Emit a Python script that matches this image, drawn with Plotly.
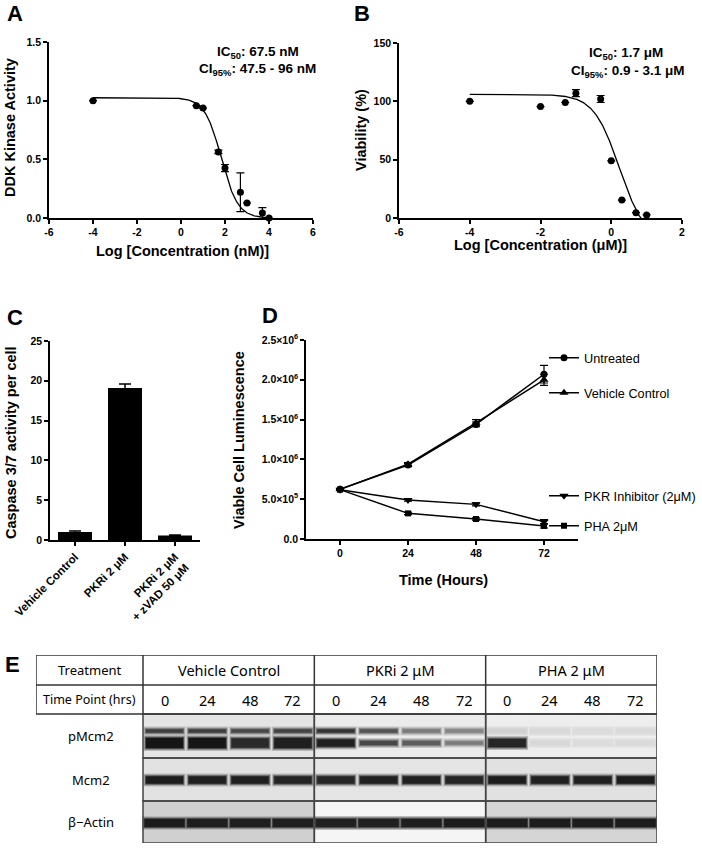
import numpy as np
import plotly.graph_objects as go

W, H = 702, 848

# ---------------- Panel A: DDK kinase activity ----------------
a_logconc = [-4, 0.7, 1.0, 1.7, 2.0, 2.7, 3.0, 3.7, 4.0]
a_activity = [1.0, 0.957, 0.937, 0.563, 0.426, 0.219, 0.128, 0.043, 0.0]
a_err = [None, None, None, 0.015, 0.03, 0.165, None, 0.045, None]
a_top, a_bottom, a_logic50, a_hill = 1.025, 0.0, 1.829, 1.15

# ---------------- Panel B: viability ----------------
b_logconc = [-4, -2, -1.3, -1, -0.3, 0, 0.3, 0.7, 1.0]
b_viab = [100, 95.5, 99, 107, 102, 49, 15.4, 4.6, 2.6]
b_err = [None, None, None, 3, 3, None, None, None, None]
b_top, b_bottom, b_logic50, b_hill = 106, -20, 0.23, 1.2

# ---------------- Panel C: caspase ----------------
c_labels = ["Vehicle Control", "PKRi 2 \u03bcM", "PKRi 2 \u03bcM<br>+ zVAD 50 \u03bcM"]
c_vals = [1.0, 19.1, 0.55]
c_err = [0.12, 0.5, 0.08]

# ---------------- Panel D: time course ----------------
d_hours = [0, 24, 48, 72]
d_untreated = [6.24e5, 9.3e5, 1.44e6, 2.07e6]
d_untreated_err = [1e4, 2e4, 3e4, 1.1e5]
d_vehicle = [6.24e5, 9.4e5, 1.46e6, 2.0e6]
d_vehicle_err = [1e4, 2e4, 4e4, 7e4]
d_pkr = [6.2e5, 4.9e5, 4.35e5, 2.18e5]
d_pkr_err = [1e4, 1.5e4, 2e4, 2.5e4]
d_pha = [6.2e5, 3.22e5, 2.51e5, 1.63e5]
d_pha_err = [1e4, 1.5e4, 1.5e4, 2.5e4]
d_names = ["Untreated", "Vehicle Control", "PKR Inhibitor (2\u03bcM)", "PHA 2\u03bcM"]
d_ticktext = ["0.0", "5.0\u00d710<sup>5</sup>", "1.0\u00d710<sup>6</sup>", "1.5\u00d710<sup>6</sup>",
              "2.0\u00d710<sup>6</sup>", "2.5\u00d710<sup>6</sup>"]

# ---------------- Panel E: western blot ----------------
e_groups = ["Vehicle Control", "PKRi 2 \u03bcM", "PHA 2 \u03bcM"]
e_times = ["0", "24", "48", "72"]
e_rows = ["pMcm2", "Mcm2", "\u03b2\u2212Actin"]
pmcm2_upper = [0.80, 0.80, 0.75, 0.78, 0.85, 0.70, 0.50, 0.45, 0.08, 0.04, 0.02, 0.03]
pmcm2_lower = [1.00, 1.00, 0.90, 0.95, 0.95, 0.75, 0.65, 0.50, 0.92, 0.04, 0.02, 0.03]
pmcm2_lower_size = [10, 10, 9, 10, 7, 4, 4, 3, 8, 3, 3, 3]
mcm2_band = [0.97, 0.95, 0.95, 0.93, 0.92, 0.95, 0.95, 0.93, 0.97, 0.95, 0.95, 0.97]
actin_band = [0.97, 0.96, 0.96, 0.96, 0.95, 0.95, 0.96, 0.97, 0.97, 0.97, 0.97, 0.97]


def px(x):
    return x / W


def py(y):
    return 1 - y / H


def four_pl(x, top, bottom, logic50, hill):
    return bottom + (top - bottom) / (1 + 10 ** ((x - logic50) * hill))


BOLD = dict(family="Liberation Sans, Arial", size=10.5, color="black", weight="bold")

fig = go.Figure()

# ---- A ----
xa = np.linspace(-4, 4, 300)
fig.add_trace(go.Scatter(x=xa, y=four_pl(xa, a_top, a_bottom, a_logic50, a_hill), mode="lines",
                         line=dict(color="black", width=1.3), xaxis="x", yaxis="y", showlegend=False))
fig.add_trace(go.Scatter(x=a_logconc, y=a_activity, mode="markers",
                         marker=dict(color="black", size=7),
                         error_y=dict(type="data", array=a_err, color="black", thickness=1.2, width=4),
                         cliponaxis=False, xaxis="x", yaxis="y", showlegend=False))

# ---- B ----
xb = np.linspace(-4, 1.0, 300)
fig.add_trace(go.Scatter(x=xb, y=four_pl(xb, b_top, b_bottom, b_logic50, b_hill), mode="lines",
                         line=dict(color="black", width=1.3), xaxis="x2", yaxis="y2", showlegend=False))
fig.add_trace(go.Scatter(x=b_logconc, y=b_viab, mode="markers",
                         marker=dict(color="black", size=7),
                         error_y=dict(type="data", array=b_err, color="black", thickness=1.2, width=4),
                         cliponaxis=False, xaxis="x2", yaxis="y2", showlegend=False))

# ---- C ----
fig.add_trace(go.Bar(x=list(range(len(c_labels))), y=c_vals, width=0.68,
                     marker=dict(color="black", line=dict(width=0)),
                     error_y=dict(type="data", array=c_err, color="black", thickness=1.5, width=6),
                     xaxis="x3", yaxis="y3", showlegend=False))

# ---- D ----
d_series = [(d_untreated, d_untreated_err, "circle", 7),
            (d_vehicle, d_vehicle_err, "triangle-up", 8),
            (d_pkr, d_pkr_err, "triangle-down", 8),
            (d_pha, d_pha_err, "square", 6)]
for i, (vals, errs, sym, sz) in enumerate(d_series):
    fig.add_trace(go.Scatter(x=d_hours, y=vals, mode="lines+markers", name=d_names[i],
                             line=dict(color="black", width=1.5),
                             marker=dict(symbol=sym, size=sz, color="black"),
                             error_y=dict(type="data", array=errs, color="black", thickness=1.2, width=4),
                             xaxis="x4", yaxis="y4",
                             legend="legend" if i == 0 else f"legend{i + 1}"))

# ---- E: blot bands ----
E_LEFT, E_LABEL, E_RIGHT = 36, 143, 657
E_TOP, E_MID, E_HDR = 655, 685, 714
E_ROWB = [714, 758, 801, 843]
GW = (E_RIGHT - E_LABEL) / 3
lane_x = [E_LABEL + g * GW + 21.5 + 42.8 * i for g in range(3) for i in range(4)]


def gray(v, base=224):
    g = int(round(base - (base - 22) * v))
    return f"rgb({g},{g},{g})"


def band(intens, center, size, width=37):
    sizes = size if isinstance(size, list) else [size] * len(intens)
    layers = [(6, 5, 0.22), (3.5, 3, 0.55), (1.5, 1.5, 0.85), (0, 0, 1.0)]
    for dh, dw, f in layers:
        fig.add_trace(go.Bar(x=lane_x, y=[s + dh for s in sizes], base=[center - (s + dh) / 2 for s in sizes],
                             width=width + dw, marker=dict(color=[gray(v * f) for v in intens],
                                                           line=dict(width=0)),
                             opacity=1.0 if f == 1.0 else 0.9,
                             xaxis="x5", yaxis="y5", showlegend=False, hoverinfo="skip"))


band(pmcm2_upper, 731, 3)
band(pmcm2_lower, 743, pmcm2_lower_size)
band(mcm2_band, 780, 7)
band(actin_band, 823, 8, width=40)

shapes = []
bg = [["#e4e4e4", "#ebebeb", "#ededed"],
      ["#e2e2e2", "#e5e5e5", "#e1e1e1"],
      ["#d0d0d0", "#f5f5f5", "#d5d5d5"]]
for r in range(3):
    for g in range(3):
        shapes.append(dict(type="rect", xref="x5", yref="y5", layer="below",
                           x0=E_LABEL + g * GW, x1=E_LABEL + (g + 1) * GW, y0=E_ROWB[r], y1=E_ROWB[r + 1],
                           fillcolor=bg[r][g], line=dict(width=0)))
for r in range(3):
    for g in range(3):
        shapes.append(dict(type="rect", xref="x5", yref="y5", layer="above",
                           x0=E_LABEL + g * GW, x1=E_LABEL + (g + 1) * GW, y0=E_ROWB[r], y1=E_ROWB[r + 1],
                           line=dict(color="#444444", width=1.5)))
# header table
shapes.append(dict(type="rect", xref="x5", yref="y5", x0=E_LEFT, x1=E_RIGHT, y0=E_TOP, y1=E_HDR,
                   line=dict(color="#333333", width=1.5)))
shapes.append(dict(type="line", xref="x5", yref="y5", x0=E_LEFT, x1=E_RIGHT, y0=E_MID, y1=E_MID,
                   line=dict(color="#333333", width=1.5)))
for xv in [E_LABEL, E_LABEL + GW, E_LABEL + 2 * GW]:
    shapes.append(dict(type="line", xref="x5", yref="y5", x0=xv, x1=xv, y0=E_TOP, y1=E_HDR,
                       line=dict(color="#333333", width=1.5)))

TFONT = dict(family="Noto Sans, Open Sans", size=13, color="black")
ann = []
ann.append(dict(text="Treatment", x=(E_LEFT + E_LABEL) / 2, y=(E_TOP + E_MID) / 2, xref="x5", yref="y5",
                showarrow=False, font=TFONT))
ann.append(dict(text="Time Point (hrs)", x=(E_LEFT + E_LABEL) / 2, y=(E_MID + E_HDR) / 2, xref="x5", yref="y5",
                showarrow=False, font=dict(TFONT, size=12.5)))
for g, name in enumerate(e_groups):
    ann.append(dict(text=name, x=E_LABEL + (g + 0.5) * GW, y=(E_TOP + E_MID) / 2, xref="x5", yref="y5",
                    showarrow=False, font=dict(TFONT, size=14.5)))
    for i, t in enumerate(e_times):
        ann.append(dict(text=t, x=lane_x[g * 4 + i], y=(E_MID + E_HDR) / 2, xref="x5", yref="y5",
                        showarrow=False, font=dict(TFONT, size=14.5)))
for r, name in enumerate(e_rows):
    ann.append(dict(text=name, x=(E_LEFT + E_LABEL) / 2 + 1, y=(E_ROWB[r] + E_ROWB[r + 1]) / 2, xref="x5",
                    yref="y5", showarrow=False, font=dict(TFONT, size=13)))

# ---- panel letters / titles / notes ----
LET = dict(family="Liberation Sans, Arial", size=22, color="black", weight="bold")
TIT = dict(family="Liberation Sans, Arial", size=14.5, color="black", weight="bold")
NOTE = dict(family="Liberation Sans, Arial", size=13.5, color="black", weight="bold")


def pa(text, x, y, font, angle=0, xanchor="center"):
    ann.append(dict(text=text, x=px(x), y=py(y), xref="paper", yref="paper", showarrow=False,
                    font=font, textangle=angle, xanchor=xanchor, yanchor="middle"))


pa("A", 15, 14, LET)
pa("B", 362, 14, LET)
pa("C", 15, 317, LET)
pa("D", 270, 315, LET)
pa("E", 12, 664, LET)

pa("DDK Kinase Activity", 10, 128, TIT, -90)
pa("Log [Concentration (nM)]", 182, 251, TIT)
pa("IC<sub>50</sub>: 67.5 nM", 258, 52, NOTE)
pa("CI<sub>95%</sub>: 47.5 - 96 nM", 257, 70, NOTE)

pa("Viability (%)", 361, 130, TIT, -90)
pa("Log [Concentration (\u03bcM)]", 540, 245, TIT)
pa("IC<sub>50</sub>: 1.7 \u03bcM", 626, 54, NOTE)
pa("CI<sub>95%</sub>: 0.9 - 3.1 \u03bcM", 627, 71, NOTE)

pa("Caspase 3/7 activity per cell", 11, 443, TIT, -90)
pa("Viable Cell Luminescence", 239, 440, TIT, -90)
pa("Time (Hours)", 443, 580, TIT)


def axis_common(**kw):
    d = dict(showline=True, linecolor="black", linewidth=1.5, ticks="outside", ticklen=4, tickwidth=1.5,
             tickcolor="black", showgrid=False, zeroline=False, tickfont=BOLD, fixedrange=True,
             automargin=False)
    d.update(kw)
    return d


leg_common = dict(xanchor="left", yanchor="middle", bgcolor="rgba(0,0,0,0)", borderwidth=0,
                  font=dict(family="Liberation Sans, Arial", size=12.7, color="black"), itemwidth=30,
                  tracegroupgap=0)

fig.update_layout(
    width=W, height=H, margin=dict(l=0, r=0, t=0, b=0, pad=0, autoexpand=False),
    paper_bgcolor="white", plot_bgcolor="rgba(0,0,0,0)", barmode="overlay",
    xaxis=axis_common(domain=[px(49), px(313)], range=[-6, 6], tickvals=[-6, -4, -2, 0, 2, 4, 6],
                      ticktext=["-6", "-4", "-2", "0", "2", "4", "6"], anchor="y"),
    yaxis=axis_common(domain=[py(218), py(42)], range=[0, 1.5], tickvals=[0, 0.5, 1.0, 1.5],
                      ticktext=["0.0", "0.5", "1.0", "1.5"], anchor="x"),
    xaxis2=axis_common(domain=[px(399), px(682)], range=[-6, 2], tickvals=[-6, -4, -2, 0, 2],
                       ticktext=["-6", "-4", "-2", "0", "2"], anchor="y2"),
    yaxis2=axis_common(domain=[py(218), py(43)], range=[0, 150], tickvals=[0, 50, 100, 150], anchor="x2"),
    xaxis3=axis_common(domain=[px(50), px(200)], range=[-0.5, 2.5], tickvals=[0, 1, 2], ticktext=c_labels,
                       tickangle=-45, anchor="y3", tickfont=dict(BOLD, size=11.5)),
    yaxis3=axis_common(domain=[py(540), py(341)], range=[0, 25], tickvals=[0, 5, 10, 15, 20, 25], anchor="x3"),
    xaxis4=axis_common(domain=[px(306), px(578)], range=[-12, 84], tickvals=d_hours, anchor="y4"),
    yaxis4=axis_common(domain=[py(539), py(340)], range=[0, 2.5e6],
                       tickvals=[0, 5e5, 1e6, 1.5e6, 2e6, 2.5e6], ticktext=d_ticktext, anchor="x4"),
    xaxis5=dict(domain=[px(E_LEFT), px(E_RIGHT)], range=[E_LEFT, E_RIGHT], visible=False, anchor="y5",
                fixedrange=True),
    yaxis5=dict(domain=[py(E_ROWB[-1]), py(E_TOP)], range=[E_ROWB[-1], E_TOP], visible=False, anchor="x5",
                fixedrange=True),
    legend=dict(leg_common, x=px(544), y=py(358)),
    legend2=dict(leg_common, x=px(544), y=py(393)),
    legend3=dict(leg_common, x=px(544), y=py(496)),
    legend4=dict(leg_common, x=px(544), y=py(526)),
    shapes=shapes, annotations=ann,
)

fig.write_html("out.html", config={"displayModeBar": False},
               post_script="document.body.style.margin='0';document.body.style.overflow='hidden';")
